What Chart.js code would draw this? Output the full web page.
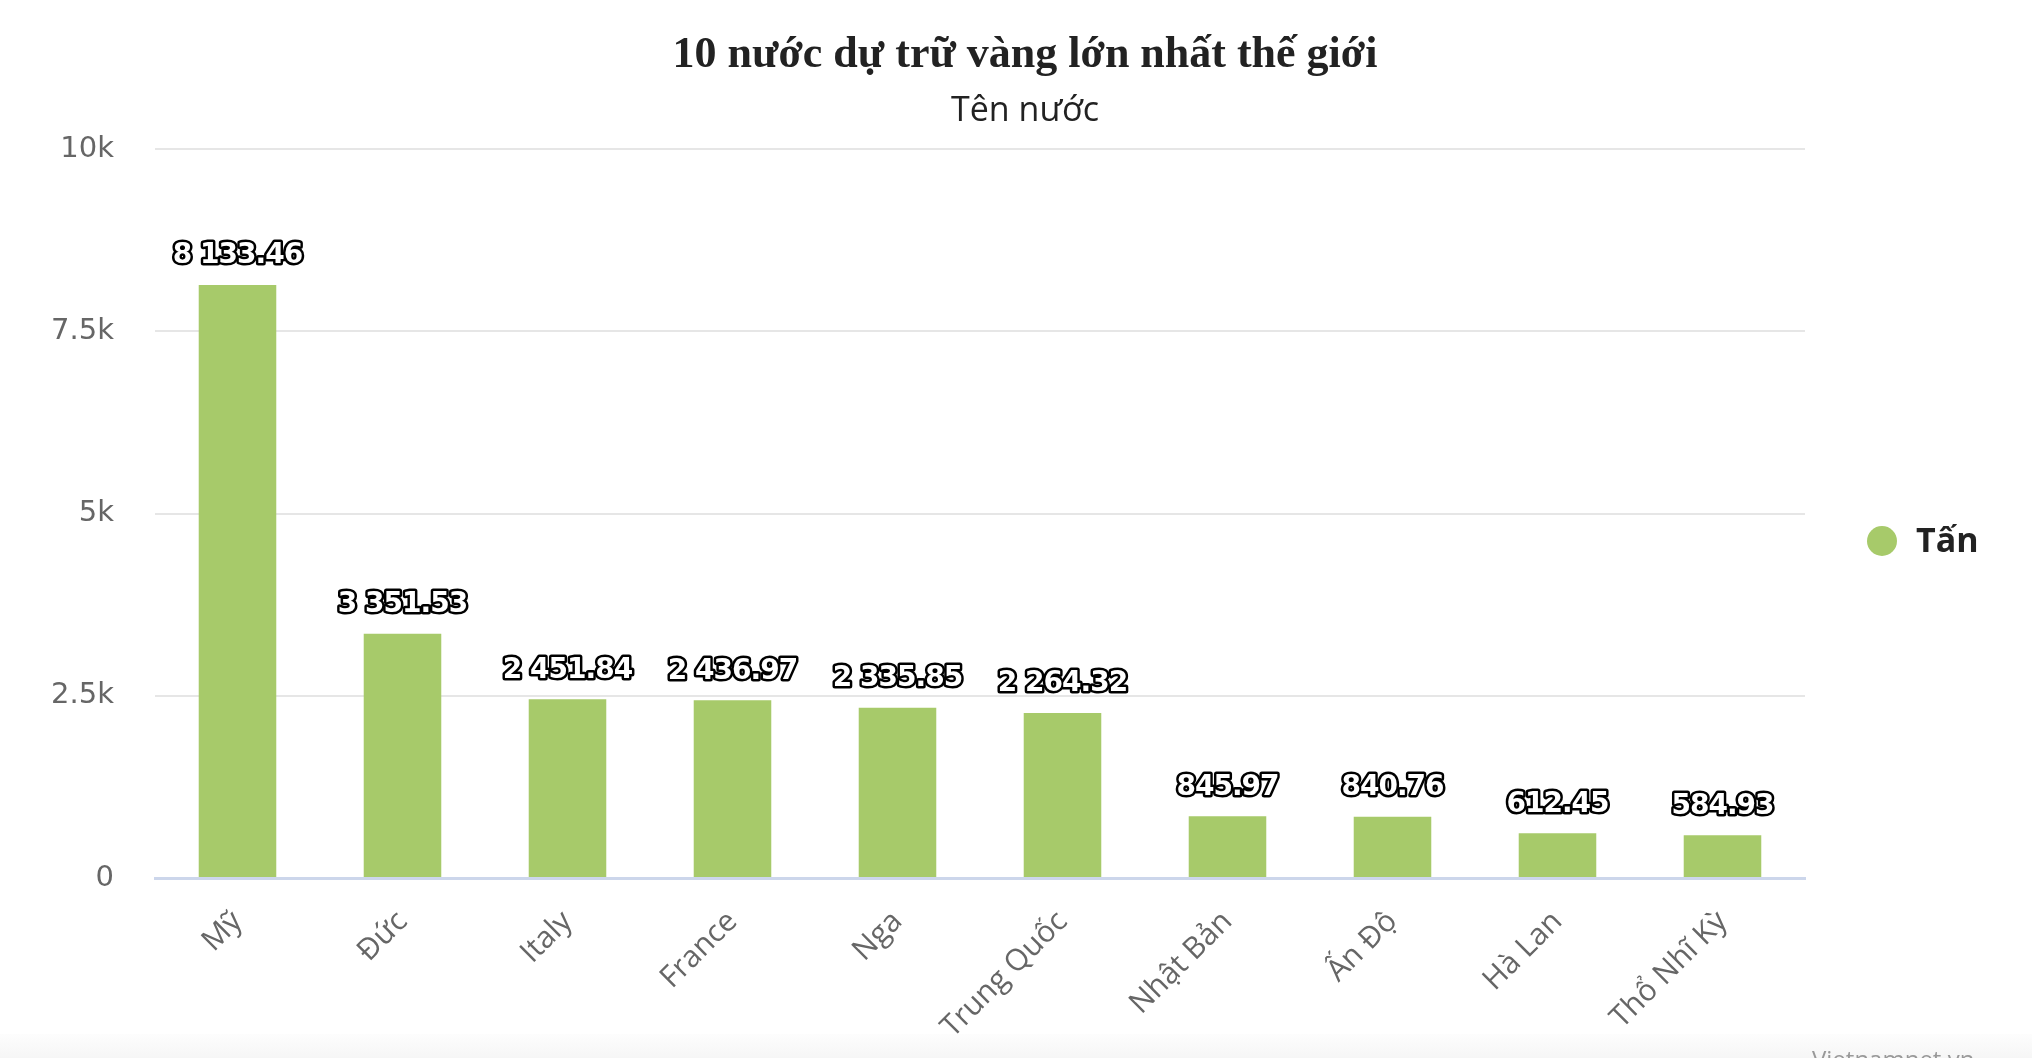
<!DOCTYPE html>
<html>
<head>
<meta charset="utf-8">
<script src="https://cdn.jsdelivr.net/npm/chart.js@4.4.1/dist/chart.umd.min.js"></script>
<style>
html,body{margin:0;padding:0;background:#fff;}
#wrap{width:2032px;height:1058px;position:relative;}
</style>
</head>
<body>
<div id="wrap"><canvas id="c" width="2032" height="1058"></canvas></div>
<script>
const chartTitle = '10 nước dự trữ vàng lớn nhất thế giới';
const chartSubtitle = 'Tên nước';
const seriesName = 'Tấn';
const credit = 'Vietnamnet.vn';
const categories = ['Mỹ','Đức','Italy','France','Nga','Trung Quốc','Nhật Bản','Ấn Độ','Hà Lan','Thổ Nhĩ Kỳ'];
const values = [8133.46, 3351.53, 2451.84, 2436.97, 2335.85, 2264.32, 845.97, 840.76, 612.45, 584.93];
const yTickValues = [0, 2500, 5000, 7500, 10000];
const yTickLabels = ['0', '2.5k', '5k', '7.5k', '10k'];

const BAR = '#a7ca6a';

function fmt(v){
  const s = v.toFixed(2);
  const [i, d] = s.split('.');
  return i.replace(/\B(?=(\d{3})+(?!\d))/g, ' ') + '.' + d;
}

const decor = {
  id: 'decor',
  beforeDraw(chart){
    const ctx = chart.ctx;
    ctx.save();
    ctx.fillStyle = '#ffffff';
    ctx.fillRect(0,0,chart.width,chart.height);
    const g = ctx.createLinearGradient(0,1034,0,1058);
    g.addColorStop(0,'#fdfdfd');
    g.addColorStop(1,'#f6f6f6');
    ctx.fillStyle = g;
    ctx.fillRect(0,1034,chart.width,24);
    // title
    ctx.fillStyle = '#222';
    ctx.textAlign = 'center';
    ctx.textBaseline = 'middle';
    ctx.font = 'bold 44px "Liberation Serif"';
    ctx.fillText(chartTitle, 1025, 56);
    ctx.fillStyle = '#222';
    ctx.font = '34px "Open Sans"';
    ctx.fillText(chartSubtitle, 1025, 111);
    // credit
    ctx.fillStyle = '#999';
    ctx.textAlign = 'left';
    ctx.textBaseline = 'alphabetic';
    ctx.font = '24px "Open Sans"';
    ctx.fillText(credit, 1812, 1068);
    // legend
    const ds = chart.data.datasets[0];
    ctx.fillStyle = ds.backgroundColor;
    ctx.beginPath();
    ctx.arc(1882, 541, 15, 0, Math.PI*2);
    ctx.fill();
    ctx.fillStyle = '#222';
    ctx.textBaseline = 'middle';
    ctx.font = 'bold 34px "Open Sans"';
    ctx.fillText(ds.label, 1916, 542);
    ctx.restore();
  }
};

const labelsPlugin = {
  id: 'barLabels',
  afterDatasetsDraw(chart){
    const ctx = chart.ctx;
    const meta = chart.getDatasetMeta(0);
    ctx.save();
    ctx.font = 'bold 28px "DejaVu Sans"';
    try { ctx.letterSpacing = '-1px'; } catch(e){}
    ctx.textAlign = 'center';
    ctx.textBaseline = 'middle';
    ctx.lineJoin = 'round';
    meta.data.forEach((el, i) => {
      const t = fmt(chart.data.datasets[0].data[i]);
      const y = el.y - 29;
      ctx.lineWidth = 5;
      ctx.strokeStyle = '#000';
      ctx.strokeText(t, el.x, y);
      ctx.fillStyle = '#fff';
      ctx.fillText(t, el.x, y);
    });
    ctx.restore();
  }
};

new Chart(document.getElementById('c'), {
  type: 'bar',
  data: {
    labels: categories,
    datasets: [{
      label: seriesName,
      data: values,
      backgroundColor: BAR,
      borderWidth: 0,
      barPercentage: 0.47,
      categoryPercentage: 1.0
    }]
  },
  options: {
    responsive: false,
    animation: false,
    devicePixelRatio: 1,
    layout: { padding: { top: 149, right: 227, bottom: 0, left: 0 } },
    plugins: {
      legend: { display: false },
      title: { display: false },
      tooltip: { enabled: false }
    },
    scales: {
      x: {
        grid: { display: false, drawTicks: false },
        border: { display: true, color: '#ccd6eb', width: 3 },
        ticks: {
          color: '#666',
          font: { family: '"Open Sans"', size: 30 },
          maxRotation: 45, minRotation: 45,
          padding: 26,
          autoSkip: false
        },
        afterFit(s){ s.height = 180; s.paddingLeft = 0; s.paddingRight = 0; }
      },
      y: {
        min: 0, max: 10000,
        afterBuildTicks(s){ s.ticks = yTickValues.map(v => ({ value: v })); },
        grid: { color: '#e6e6e6', lineWidth: 2, drawTicks: false },
        border: { display: false },
        ticks: {
          color: '#666',
          font: { family: '"DejaVu Sans"', size: 29 },
          padding: 41,
          callback: (v) => yTickLabels[yTickValues.indexOf(v)]
        },
        afterFit(s){ s.width = 155; s.paddingTop = 0; s.paddingBottom = 0; }
      }
    }
  },
  plugins: [decor, labelsPlugin]
});
</script>
</body>
</html>
